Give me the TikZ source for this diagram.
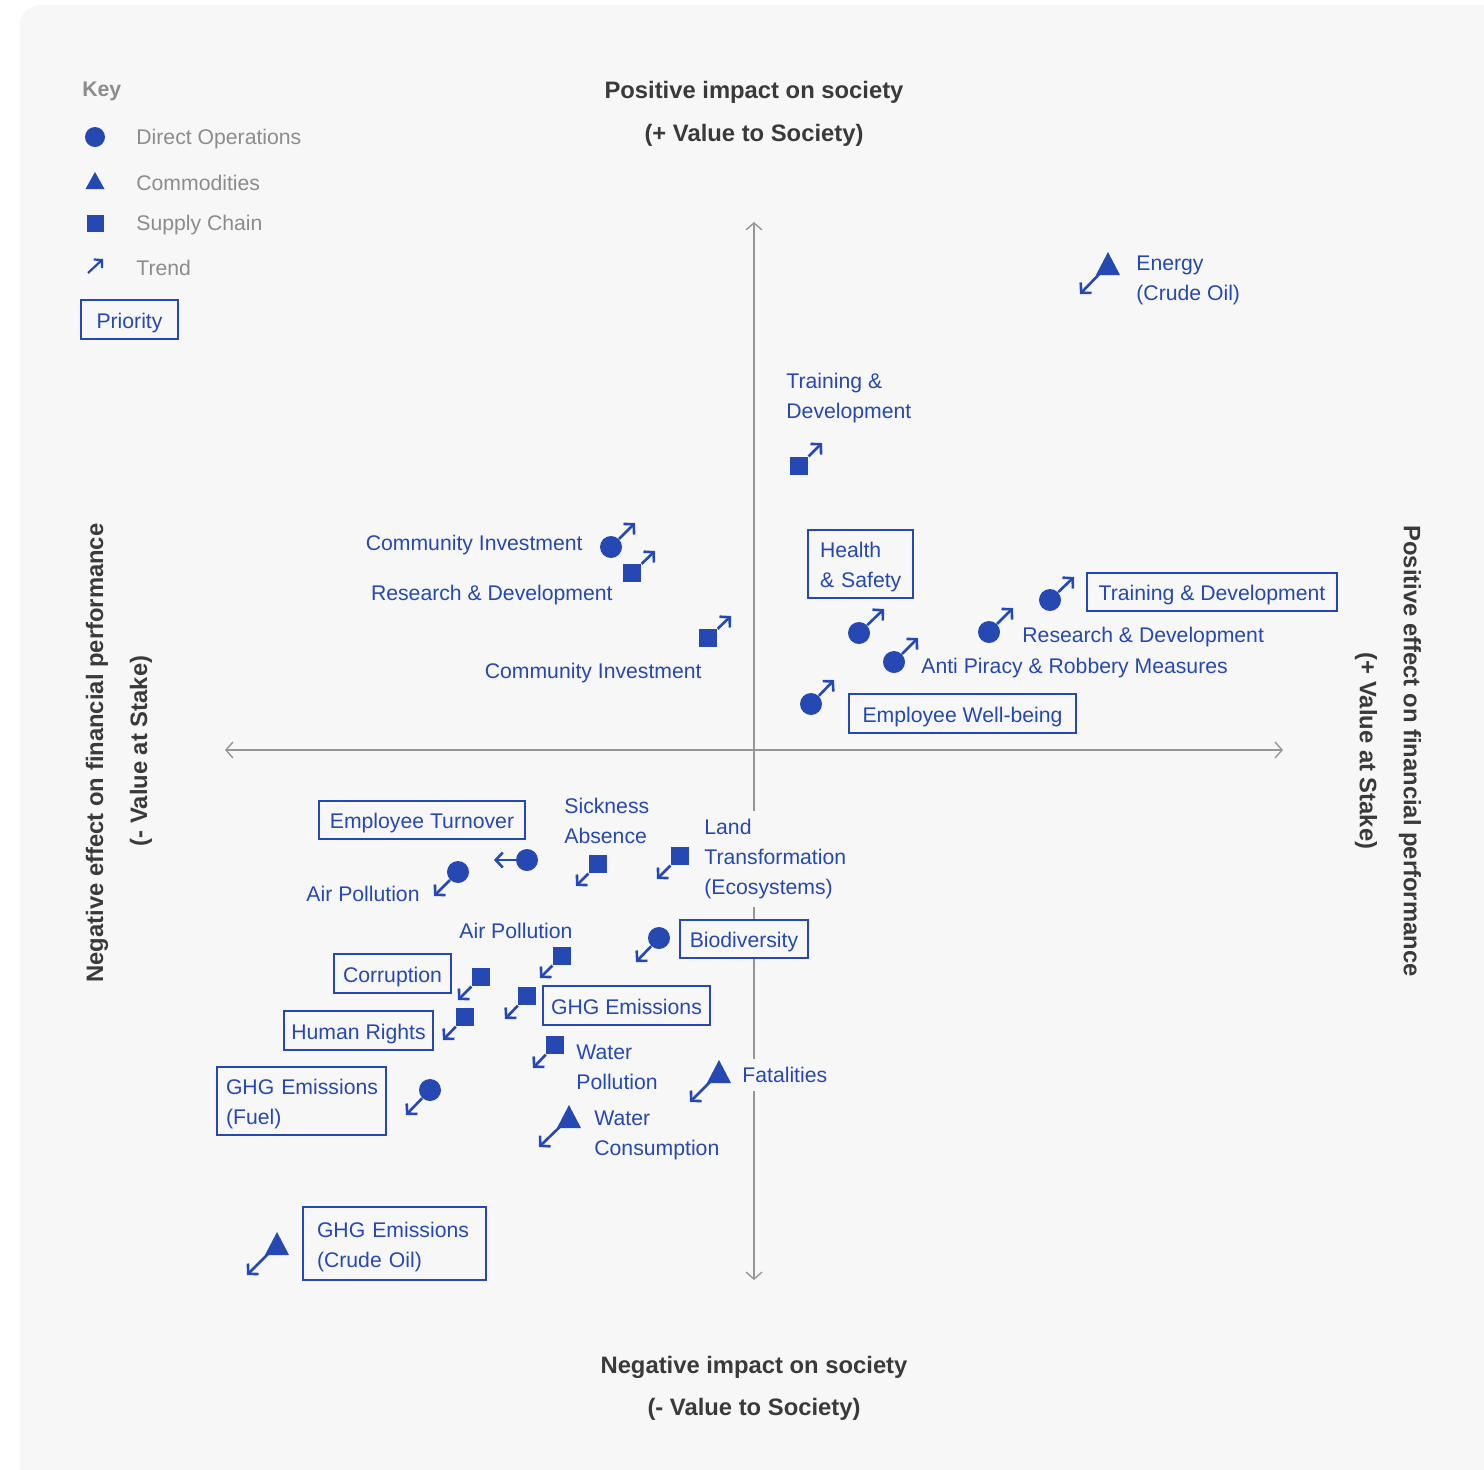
\documentclass[tikz,border=0pt]{standalone}
\usepackage{fontspec}
\setmainfont{Liberation Sans}
\usetikzlibrary{arrows.meta,calc}
\definecolor{bl}{RGB}{38,72,178}
\definecolor{bgc}{RGB}{247,247,247}
\definecolor{keyg}{RGB}{140,140,140}
\definecolor{headc}{RGB}{58,58,58}
\definecolor{axc}{RGB}{150,150,150}
\newcommand{\lfont}{\fontsize{10.6}{15}\selectfont}
\newcommand{\tstrut}{\rule{0pt}{10.7pt}}
\newcommand{\tritop}[1]{\fill[bl] ($(#1)+(0,-13)$) -- ($(#1)+(12,10)$) -- ($(#1)+(-12,10)$) -- cycle;}
\begin{document}
\begin{tikzpicture}[x=0.5pt,y=-0.5pt,
  lab/.style={text=bl, font=\lfont, inner sep=0pt, align=left, yshift=-0.6pt},
  labbg/.style={lab, fill=bgc, inner ysep=4pt},
  keyt/.style={text=keyg, font=\lfont, inner sep=0pt, anchor=west, yshift=-1.2pt},
  head/.style={text=headc, font=\bfseries\fontsize{11.9}{14}\selectfont, inner sep=0pt},
  box/.style={draw=bl, line width=1pt, fill=bgc, text=bl, font=\lfont, inner sep=0pt, text height=8.5pt, text depth=0pt},
  mbox/.style={draw=bl, line width=1pt, fill=bgc, text=bl, font=\lfont, align=left},
  dot/.style={circle, fill=bl, inner sep=0pt, minimum size=11pt},
  kdot/.style={circle, fill=bl, inner sep=0pt, minimum size=10pt},
  sqr/.style={rectangle, fill=bl, inner sep=0pt, minimum size=9.2pt},
  ksqr/.style={rectangle, fill=bl, inner sep=0pt, minimum size=8.5pt},
  trend/.style={draw=bl, line width=1.3pt, -{Straight Barb[length=3.5pt,width=7.5pt]}},
  ktrend/.style={draw=bl, line width=1.1pt, -{Straight Barb[length=2.8pt,width=6pt]}},
  axis/.style={draw=axc, line width=0.7pt, {Straight Barb[length=3.5pt,width=8pt]}-{Straight Barb[length=3.5pt,width=8pt]}}]
\useasboundingbox (0,0) rectangle (1484,1469);
\fill[bgc, rounded corners=10pt] (20,5) rectangle (1520,1500);

% axes
\coordinate (hl) at (225,750); \coordinate (hr) at (1283,750);
\coordinate (vt) at (754,222); \coordinate (vb) at (754,1280);
\draw[axis] (hl) -- (hr);
\draw[axis] (vt) -- (vb);

% headings
\node[head, yshift=-1pt] (ht1) at (754,90) {Positive impact on society};
\node[head, yshift=-1pt] (ht2) at (754,133) {(+ Value to Society)};
\node[head, yshift=-1pt] (hb1) at (754,1365) {Negative impact on society};
\node[head, yshift=-1pt] (hb2) at (754,1407) {(- Value to Society)};
\node[head, rotate=90, xshift=-1pt] (hl1) at (97,751) {Negative effect on financial performance};
\node[head, rotate=90] (hl2) at (141,751) {(- Value at Stake)};
\node[head, rotate=-90] (hr1) at (1410,751) {Positive effect on financial performance};
\node[head, rotate=-90] (hr2) at (1366,751) {(+ Value at Stake)};

% key
\node[text=keyg, font=\bfseries\fontsize{10.6}{13}\selectfont, inner sep=0pt, anchor=west, yshift=-1pt] (key) at (82,89) {Key};
\node[kdot] (kd) at (95,137) {};
\node[keyt] (kdl) at (136,137) {Direct Operations};
\fill[bl] (95,172) -- (104.5,189) -- (85.5,189) -- cycle;
\coordinate (ktr) at (95,181);
\node[keyt] (ktl) at (136,181) {Commodities};
\node[ksqr] (ks) at (95,223) {};
\node[keyt] (ksl) at (136,223) {Supply Chain};
\coordinate (kt1) at (88,273); \coordinate (kt2) at (103,259);
\draw[ktrend] (kt1) -- (kt2);
\node[keyt] (kal) at (136,266) {Trend};
\node[box, minimum width=48.5pt, minimum height=19.5pt] (prio) at (129.5,319.5) {Priority};

% labels with background (cover axis)
\node[labbg, anchor=west, inner xsep=0pt] (land) at (704,858) {Land\\Transformation\\(Ecosystems)};
\node[labbg, anchor=west, inner xsep=0pt] (fat) at (742,1074) {Fatalities};

% plain labels
\node[lab, anchor=west] (en) at (1136,279) {Energy\\(Crude Oil)};
\node[lab, anchor=west] (td1) at (786,397) {Training \&\\Development};
\node[lab, anchor=east] (ci1) at (583,544) {Community Investment};
\node[lab, anchor=east] (rd1) at (613,594) {Research \& Development};
\node[lab, anchor=east] (ci2) at (702,672) {Community Investment};
\node[lab, anchor=west] (rd2) at (1022,636) {Research \& Development};
\node[lab, anchor=west] (ap) at (921,667) {Anti Piracy \& Robbery Measures};
\node[lab, anchor=east] (air1) at (420,893) {Air Pollution};
\node[lab, anchor=west] (sick) at (564,820) {Sickness\\Absence};
\node[lab] (air2) at (516,930) {Air Pollution};
\node[lab, anchor=west] (wp) at (576,1066) {Water\\Pollution};
\node[lab, anchor=west] (wc) at (594,1134) {Water\\Consumption};

% boxed labels
\node[box, minimum width=103pt, minimum height=19pt] (et) at (422,820) {Employee Turnover};
\node[box, minimum width=58.5pt, minimum height=19.5pt] (cor) at (392.5,973.5) {Corruption};
\node[box, minimum width=74.5pt, minimum height=19.5pt] (hr) at (358.5,1030.5) {Human Rights};
\node[box, minimum width=83.5pt, minimum height=19.5pt] (ghg) at (626.5,1005.5) {GHG Emissions};
\node[box, minimum width=64pt, minimum height=19pt] (bio) at (744,939) {Biodiversity};
\node[box, minimum width=125pt, minimum height=19pt] (td2) at (1212,592) {Training \& Development};
\node[box, minimum width=113.5pt, minimum height=19.5pt] (ewb) at (962.5,713.5) {Employee Well-being};
\node[mbox, text width=40.5pt, inner xsep=6pt, inner ysep=0pt, minimum height=34pt] (hs) at (860.5,564) {\tstrut Health\\\mbox{\& Safety}};
\node[mbox, text width=75.5pt, inner xsep=4.5pt, inner ysep=0pt, minimum height=34pt] (ghgf) at (301.5,1101) {\tstrut\mbox{GHG Emissions}\\(Fuel)};
\node[mbox, text width=77.5pt, inner xsep=7pt, inner ysep=0pt, minimum height=36.5pt] (ghgc) at (394.5,1243.5) {\tstrut\mbox{GHG Emissions}\\\mbox{(Crude Oil)}};

% markers (up-right trends)
\node[sqr] (m1) at (799,466) {};      \coordinate (a1) at (822,443);
\node[dot] (m2) at (611,547) {};      \coordinate (a2) at (635,523);
\node[sqr] (m3) at (632,573) {};      \coordinate (a3) at (655,551);
\node[sqr] (m4) at (708,638) {};      \coordinate (a4) at (731,616);
\node[dot] (m5) at (859,633) {};      \coordinate (a5) at (884,609);
\node[dot] (m6) at (894,662) {};      \coordinate (a6) at (918,638);
\node[dot] (m7) at (989,632) {};      \coordinate (a7) at (1013,608);
\node[dot] (m8) at (1050,600) {};     \coordinate (a8) at (1074,577);
\node[dot] (m9) at (811,704) {};      \coordinate (a9) at (834,680);
\foreach \i in {1,...,9} {\draw[trend] (m\i) -- (a\i);}

% markers (down-left trends)
\node[dot] (n1) at (527,860) {};      \coordinate (b1) at (494,860);
\node[dot] (n2) at (458,872) {};      \coordinate (b2) at (434,896);
\node[sqr] (n3) at (598,864) {};      \coordinate (b3) at (576,886);
\node[sqr] (n4) at (680,856) {};      \coordinate (b4) at (657,879);
\node[sqr] (n5) at (562,956) {};      \coordinate (b5) at (540,978);
\node[dot] (n6) at (659,938) {};      \coordinate (b6) at (636,962);
\node[sqr] (n7) at (481,977) {};      \coordinate (b7) at (458,1000);
\node[sqr] (n8) at (527,996) {};      \coordinate (b8) at (505,1019);
\node[sqr] (n9) at (465,1017) {};     \coordinate (b9) at (443,1040);
\node[sqr] (n10) at (555,1045) {};    \coordinate (b10) at (533,1068);
\node[dot] (n11) at (430,1090) {};    \coordinate (b11) at (406,1115);
\foreach \i in {1,...,11} {\draw[trend] (n\i) -- (b\i);}

% commodities (triangles)
\coordinate (t1) at (1108,265); \coordinate (c1) at (1080,294);
\coordinate (t2) at (719,1073); \coordinate (c2) at (690,1102);
\coordinate (t3) at (569,1118); \coordinate (c3) at (539,1147);
\coordinate (t4) at (277,1245); \coordinate (c4) at (247,1275);
\foreach \i in {1,...,4} {\draw[trend] (t\i) -- (c\i);}
\tritop{t1}\tritop{t2}\tritop{t3}\tritop{t4}
\end{tikzpicture}
\end{document}
